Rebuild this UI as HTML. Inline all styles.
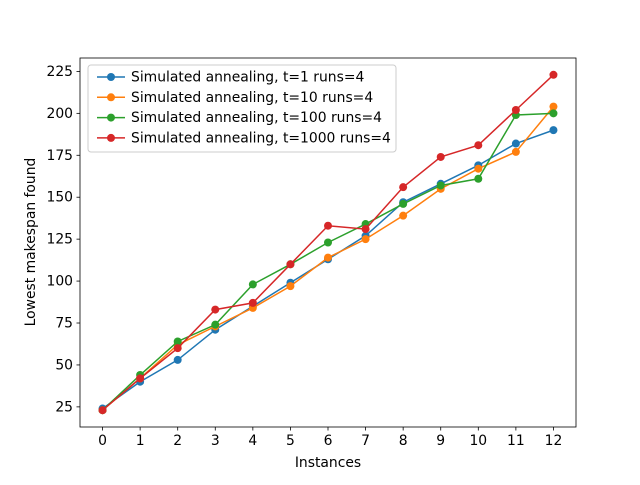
<!DOCTYPE html>
<html><head><meta charset="utf-8"><style>
body{margin:0;background:#fff;}
svg text{font-family:"DejaVu Sans","Liberation Sans",sans-serif;font-size:13.9px;fill:#000;}
</style></head><body>
<svg id="chart" width="640" height="480" xmlns="http://www.w3.org/2000/svg">
<rect width="640" height="480" fill="#fff"/>
<g id="plot"></g>
<rect x="80" y="58" width="496" height="369" fill="none" stroke="#000" stroke-width="0.8"/>
<text x="328" y="467" text-anchor="middle">Instances</text>
<text transform="translate(35,242) rotate(-90)" text-anchor="middle">Lowest makespan found</text>
<g id="legend"></g>
</svg>
<script>
const categories=[0,1,2,3,4,5,6,7,8,9,10,11,12];
const seriesNames=["Simulated annealing, t=1 runs=4","Simulated annealing, t=10 runs=4","Simulated annealing, t=100 runs=4","Simulated annealing, t=1000 runs=4"];
const seriesT1=[24,40,53,71,85,99,113,127,147,158,169,182,190];
const seriesT10=[23,42,62,73,84,97,114,125,139,155,167,177,204];
const seriesT100=[23,44,64,74,98,110,123,134,146,157,161,199,200];
const seriesT1000=[23,42,60,83,87,110,133,131,156,174,181,202,223];
const yTicks=[25,50,75,100,125,150,175,200,225];
const colors=["#1f77b4","#ff7f0e","#2ca02c","#d62728"];
const NS="http://www.w3.org/2000/svg";
const L=80,R=576,T=58,B=427,xMin=-0.6,xMax=12.6,yMin=13,yMax=233;
const xs=v=>L+(v-xMin)/(xMax-xMin)*(R-L);
const ys=v=>B-(v-yMin)/(yMax-yMin)*(B-T);
const plot=document.getElementById('plot');
function mk(tag,attrs,parent){const e=document.createElementNS(NS,tag);for(const k in attrs)e.setAttribute(k,attrs[k]);parent.appendChild(e);return e;}
categories.forEach(c=>{
  const x=xs(c);
  const t=mk('line',{x1:x,x2:x,y1:B,y2:B+3.5,stroke:'#000','stroke-width':0.8},plot);
  
  
  const lb=mk('text',{x:x,y:B+18,'text-anchor':'middle'},plot);lb.textContent=c;
  
  
});
yTicks.forEach(v=>{
  const y=ys(v);
  const t=mk('line',{x1:L-3.5,x2:L,y1:y,y2:y,stroke:'#000','stroke-width':0.8},plot);
  
  
  const lb=mk('text',{x:L-7,y:y+4.5,'text-anchor':'end'},plot);lb.textContent=v;
  
  
});
const all=[seriesT1,seriesT10,seriesT100,seriesT1000];
all.forEach((s,i)=>{
  const g=mk('g',{},plot);
  
  
  const pts=s.map((v,j)=>xs(categories[j])+','+ys(v)).join(' ');
  const pl=mk('polyline',{points:pts,fill:'none',stroke:colors[i],'stroke-width':1.5},g);
  
  
  s.forEach((v,j)=>{
    const c=mk('circle',{cx:xs(categories[j]),cy:ys(v),r:4,fill:colors[i]},g);
    
    
  });
});
const lg=document.getElementById('legend');


mk('rect',{x:88,y:65,width:308,height:87,rx:3,fill:'#fff','fill-opacity':0.8,stroke:'#ccc'},lg);
seriesNames.forEach((n,i)=>{
  const y=77+i*20.3;
  const e=mk('g',{},lg);
  
  
  mk('line',{x1:97,x2:125,y1:y,y2:y,stroke:colors[i],'stroke-width':1.5},e);
  mk('circle',{cx:111,cy:y,r:4,fill:colors[i]},e);
  const t=mk('text',{x:131,y:y+4.5},e);t.textContent=n;
});
</script>
</body></html>
